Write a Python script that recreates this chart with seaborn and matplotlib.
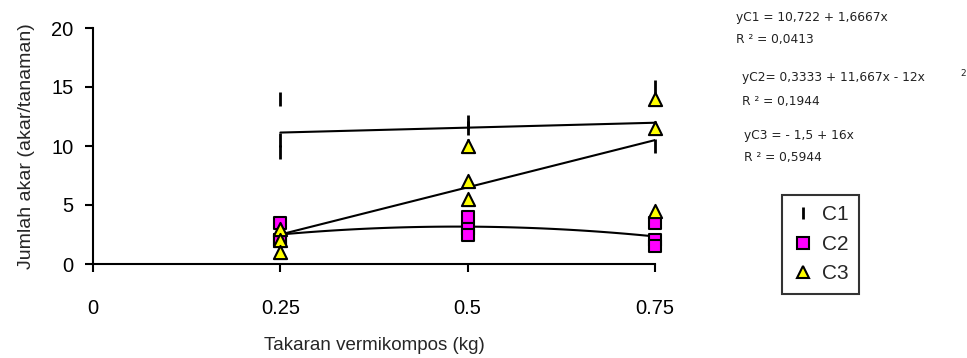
import numpy as np
import matplotlib.pyplot as plt
import pandas as pd
import seaborn as sns
from matplotlib.lines import Line2D

# data (3 plants per dose)
dose = [0.25, 0.25, 0.25, 0.5, 0.5, 0.5, 0.75, 0.75, 0.75]
c1 = [14.0, 10.5, 9.5, 12.0, 11.5, 10.0, 15.0, 11.5, 10.0]
c2 = [3.5, 2.0, 2.0, 4.0, 3.0, 2.5, 3.5, 2.0, 1.5]
c3 = [3.0, 2.0, 1.0, 10.0, 7.0, 5.5, 14.0, 11.5, 4.5]

eq_lines = ["yC1 = 10,722 + 1,6667x", "R \u00b2 = 0,0413",
            "yC2= 0,3333 + 11,667x - 12x", "R \u00b2 = 0,1944",
            "yC3 = - 1,5 + 16x", "R \u00b2 = 0,5944"]

xticks = [0, 0.25, 0.5, 0.75]
xticklabels = ["0", "0.25", "0.5", "0.75"]
yticks = [0, 5, 10, 15, 20]

sns.set_style("ticks")
plt.rcParams["font.family"] = ["Liberation Sans", "DejaVu Sans"]

df1 = pd.DataFrame({"x": dose, "y": c1})
df2 = pd.DataFrame({"x": dose, "y": c2})
df3 = pd.DataFrame({"x": dose, "y": c3})

W, H = 967, 358
fig = plt.figure(figsize=(W / 100, H / 100), dpi=100)
ax = fig.add_axes([93 / W, 1 - 264 / H, (655 - 93) / W, (264 - 28) / H])

# trend lines
line_kws = dict(color="black", lw=1.5)
sns.regplot(data=df1, x="x", y="y", order=1, scatter=False, ci=None, truncate=True, line_kws=line_kws, ax=ax)
sns.regplot(data=df2, x="x", y="y", order=2, scatter=False, ci=None, truncate=True, line_kws=line_kws, ax=ax)
sns.regplot(data=df3, x="x", y="y", order=1, scatter=False, ci=None, truncate=True, line_kws=line_kws, ax=ax)

# points
sns.scatterplot(data=df1, x="x", y="y", marker="|", s=90, color="black", linewidth=2, ax=ax, clip_on=False, zorder=3)
sns.scatterplot(data=df2, x="x", y="y", marker="s", s=85, color="#FF00FF", edgecolor="black", linewidth=1.5, ax=ax, clip_on=False, zorder=3)
sns.scatterplot(data=df3, x="x", y="y", marker="^", s=90, color="#FFFF00", edgecolor="black", linewidth=1.5, ax=ax, clip_on=False, zorder=4)

ax.set_xlim(0, 0.75)
ax.set_ylim(0, 20)
ax.set_xticks(xticks)
ax.set_xticklabels(xticklabels)
ax.set_yticks(yticks)
sns.despine(ax=ax)
for s in ["left", "bottom"]:
    ax.spines[s].set_linewidth(1.5)
    ax.spines[s].set_color("black")
ax.tick_params(axis="both", length=6, width=1.5, colors="black", labelsize=14.5)
ax.tick_params(axis="x", pad=19)
ax.tick_params(axis="y", pad=8)
ax.set_xlabel("Takaran vermikompos (kg)", fontsize=13.5, labelpad=14)
ax.set_ylabel("Jumlah akar (akar/tanaman)", fontsize=14, labelpad=12)

# legend
handles = [
    Line2D([], [], marker="|", color="black", ls="none", markersize=9, markeredgewidth=2),
    Line2D([], [], marker="s", markerfacecolor="#FF00FF", markeredgecolor="black", ls="none", markersize=8, markeredgewidth=1.5),
    Line2D([], [], marker="^", markerfacecolor="#FFFF00", markeredgecolor="black", ls="none", markersize=8, markeredgewidth=1.5),
]
leg = ax.legend(handles, ["C1", "C2", "C3"], loc="upper left", bbox_to_anchor=(782 / W, 1 - 195 / H),
                bbox_transform=fig.transFigure, frameon=True, fancybox=False, fontsize=15,
                handlelength=1.0, handletextpad=0.4, borderpad=0.5, labelspacing=0.5, borderaxespad=0)
leg.get_frame().set_edgecolor("black")
leg.get_frame().set_linewidth(1.5)

# regression equations
eq_pos = [(736, 17), (736, 40), (742, 78), (742, 102), (744, 135), (744, 158)]
for (px, py), t in zip(eq_pos, eq_lines):
    fig.text(px / W, 1 - py / H, t, fontsize=8.8, ha="left", va="center", family="DejaVu Sans", color="#222222")
fig.text(963 / W, 1 - 74 / H, "2", fontsize=6.5, ha="center", va="center", family="DejaVu Sans", color="#222222")

fig.savefig("out.png", dpi=100)
